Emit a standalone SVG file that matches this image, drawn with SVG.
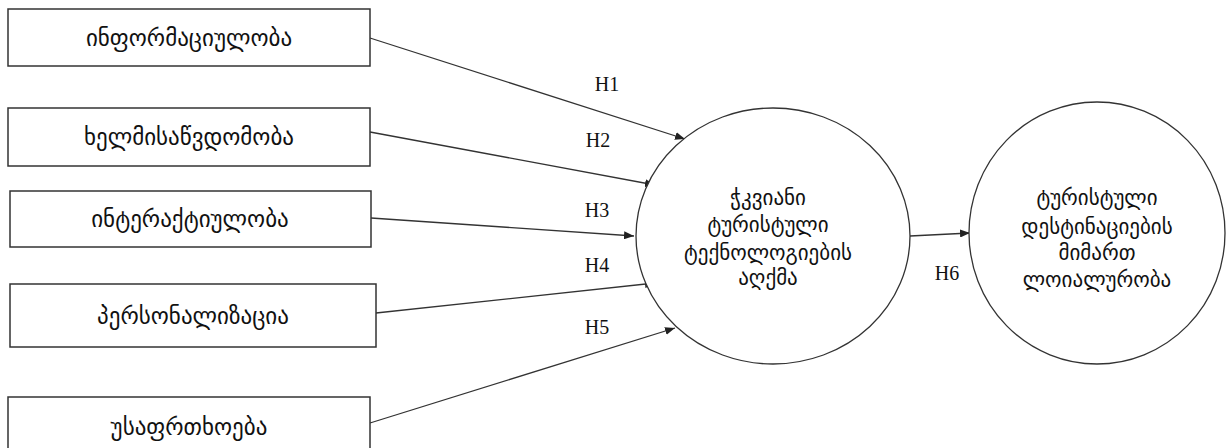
<svg xmlns="http://www.w3.org/2000/svg" width="1226" height="448" viewBox="0 0 1226 448">
<style>
.box{fill:#fff;stroke:#333;stroke-width:1.5}
.ell{fill:#fff;stroke:#333;stroke-width:1.3}
.t{font-family:"DejaVu Sans","Noto Sans",sans-serif;font-size:21px;fill:#111;text-anchor:middle}
.bt{font-size:23px}
.h{font-family:"Liberation Serif","Times New Roman",serif;font-size:20px;fill:#111;text-anchor:middle}
.c{stroke:#333;stroke-width:1.3;fill:none;marker-end:url(#ah)}
</style>
<defs>
<marker id="ah" viewBox="0 0 10 8" refX="10" refY="4" markerWidth="10" markerHeight="8" markerUnits="userSpaceOnUse" orient="auto">
<path d="M0,0 L10,4 L0,8 Z" fill="#222"/>
</marker>
</defs>
<rect width="1226" height="448" fill="#fff"/>
<g id="connectors">
<line class="c" x1="370" y1="38" x2="685" y2="139"/>
<line class="c" x1="370" y1="132" x2="655" y2="185"/>
<line class="c" x1="371" y1="218" x2="634" y2="236"/>
<line class="c" x1="376" y1="313" x2="655" y2="283"/>
<line class="c" x1="370" y1="423" x2="675" y2="328"/>
<line class="c" x1="910" y1="236" x2="970" y2="233"/>
<text class="h" x="607" y="91">H1</text>
<text class="h" x="598" y="147">H2</text>
<text class="h" x="597" y="217">H3</text>
<text class="h" x="597" y="272">H4</text>
<text class="h" x="597" y="334">H5</text>
<text class="h" x="947" y="280">H6</text>
</g>
<g id="n1"><rect class="box" x="8" y="9" width="362" height="57"/><text class="t bt" x="189" y="46">ინფორმაციულობა</text></g>
<g id="n2"><rect class="box" x="8" y="108" width="362" height="58"/><text class="t bt" x="189" y="145">ხელმისაწვდომობა</text></g>
<g id="n3"><rect class="box" x="10" y="191" width="361" height="56"/><text class="t bt" x="190" y="227">ინტერაქტიულობა</text></g>
<g id="n4"><rect class="box" x="10" y="284" width="366" height="63"/><text class="t bt" x="193" y="324">პერსონალიზაცია</text></g>
<g id="n5"><rect class="box" x="8" y="397" width="362" height="60"/><text class="t bt" x="189" y="435">უსაფრთხოება</text></g>
<g id="n6"><ellipse class="ell" cx="773" cy="236" rx="137" ry="128"/>
<text class="t" x="768" y="205">ჭკვიანი</text>
<text class="t" x="768" y="232">ტურისტული</text>
<text class="t" x="768" y="260">ტექნოლოგიების</text>
<text class="t" x="768" y="285">აღქმა</text></g>
<g id="n7"><ellipse class="ell" cx="1097" cy="233" rx="128" ry="131"/>
<text class="t" x="1097" y="205">ტურისტული</text>
<text class="t" x="1097" y="234">დესტინაციების</text>
<text class="t" x="1097" y="260">მიმართ</text>
<text class="t" x="1097" y="287">ლოიალურობა</text></g>
</svg>
